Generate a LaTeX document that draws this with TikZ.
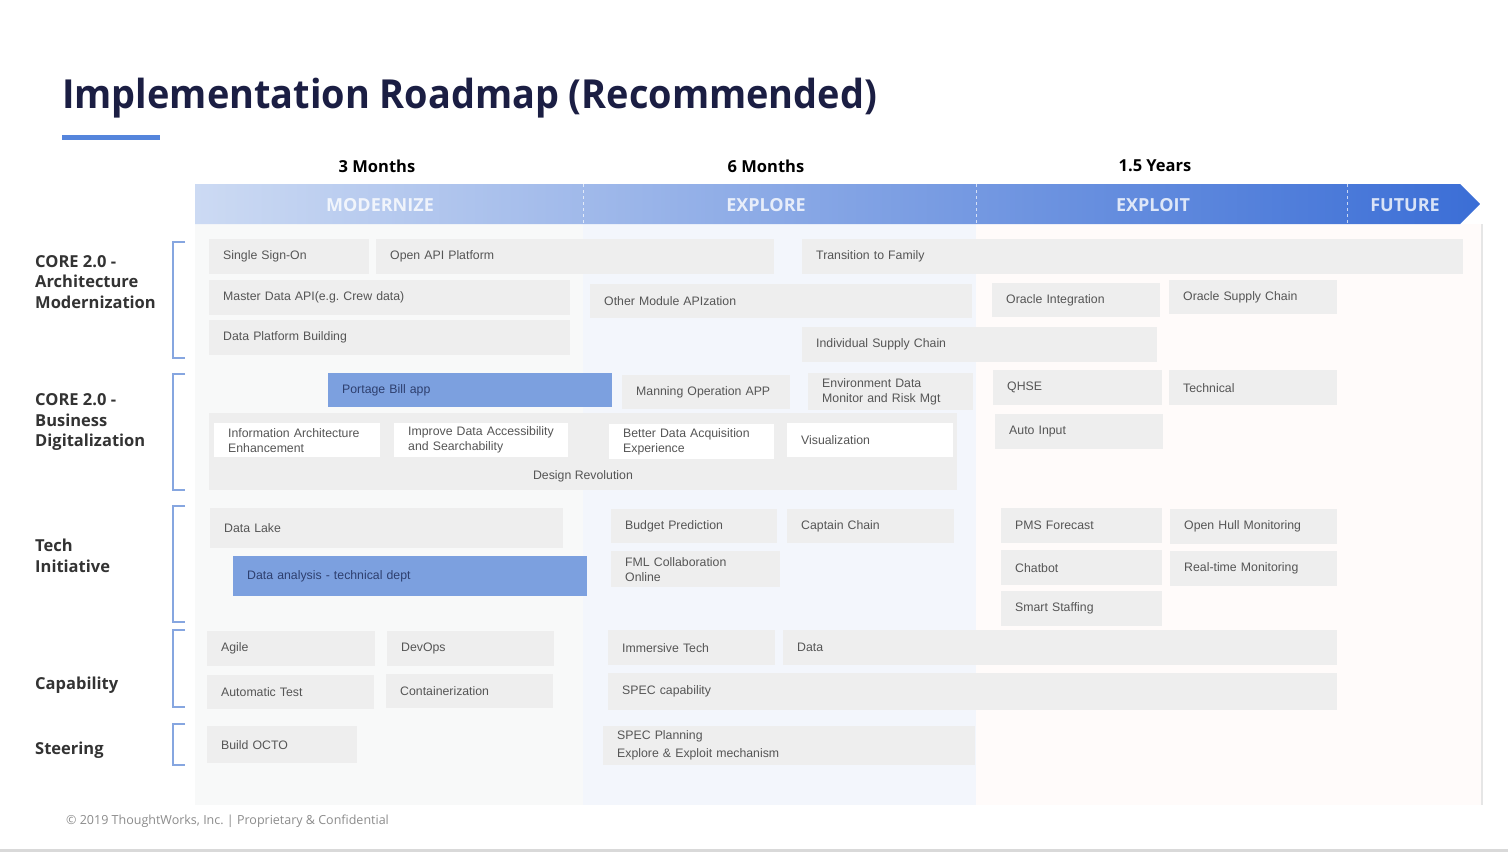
\documentclass[tikz,border=0pt]{standalone}
\usepackage{graphicx}
\usepackage{fontspec}
\setmainfont{Liberation Sans}
\newfontfamily\opensans{Open Sans}
\frenchspacing

\definecolor{titlenavy}{HTML}{1B1E43}
\definecolor{accentblue}{HTML}{5585DC}
\definecolor{bandlight}{HTML}{CCDAF3}
\definecolor{banddark}{HTML}{3B6ED6}
\definecolor{colmod}{HTML}{F8F9F9}
\definecolor{colexp}{HTML}{F3F6FC}
\definecolor{colexl}{HTML}{FFFBFA}
\definecolor{colborder}{HTML}{E6E6E6}
\definecolor{taskgray}{HTML}{EEEEEE}
\definecolor{taskblue}{HTML}{7CA0DF}
\definecolor{tasktext}{HTML}{555555}
\definecolor{bluetext}{HTML}{2E3F6E}
\definecolor{labeltext}{HTML}{333333}
\definecolor{bracketblue}{HTML}{86A6E0}
\definecolor{footergray}{HTML}{8C8C8C}
\definecolor{rulegray}{HTML}{D9D9D9}

\tikzset{
  taskbox/.style={fill=taskgray, draw=none, inner xsep=14pt, inner ysep=1pt,
    align=left, text=tasktext, font=\fontsize{12.3}{15}\selectfont},
  bluetask/.style={fill=taskblue, text=bluetext},
  whitetask/.style={fill=white},
  rowlabel/.style={anchor=west, align=left, text=labeltext, inner sep=0pt,
    font=\opensans\bfseries\fontsize{16.5}{20.5}\selectfont},
  colhead/.style={inner sep=0pt, text=black,
    font=\opensans\bfseries\fontsize{16.5}{20}\selectfont},
  phase/.style={inner sep=0pt, text=white, text opacity=0.8,
    font=\opensans\bfseries\fontsize{18}{20}\selectfont},
  bracket/.style={draw=bracketblue, line width=1.6pt},
  divider/.style={draw=white, dashed, line width=0.8pt, opacity=0.7},
}

% \roadtask[style]{name}{x1}{y1}{x2}{y2}{text}
\newcommand\roadtask[7][]{%
  \pgfmathsetmacro\rtw{#5-#3}%
  \pgfmathsetmacro\rth{#6-#4}%
  \pgfmathsetmacro\rtt{#5-#3-28}%
  \node[taskbox,#1,anchor=north west,minimum width=\rtw pt,minimum height=\rth pt,
        text width=\rtt pt] (#2) at (#3,#4) {#7};}

\begin{document}
\begin{tikzpicture}[x=1pt,y=-1pt]
\useasboundingbox (0,0) rectangle (1508,852);
\fill[white] (0,0) rectangle (1508,852);

% title and accent bar
\node[anchor=base west, inner sep=0pt, text=titlenavy,
      font=\opensans\bfseries\fontsize{40}{44}\selectfont] (title) at (62,108)
      {\scalebox{0.947}[1]{Implementation Roadmap (Recommended)}};
\fill[accentblue] (62,135) rectangle (160,140);

% column backgrounds
\fill[colmod] (195,224) rectangle (583,805);
\fill[colexp] (583,224) rectangle (976,805);
\fill[colexl] (976,224) rectangle (1482,805);
\draw[colborder, line width=1.5pt] (1482,224) -- (1482,805);

% timeline headers
\node[colhead] (h3m) at (377,166) {3 Months};
\node[colhead] (h6m) at (766,166) {6 Months};
\node[colhead] (h15y) at (1155,166) {1.5 Years};

% phase arrow
\shade[left color=bandlight, right color=banddark]
  (195,184) -- (1460,184) -- (1480,204) -- (1460,224) -- (195,224) -- cycle;
\draw[divider] (583,184) -- (583,224);
\draw[divider] (976,184) -- (976,224);
\draw[divider] (1347,184) -- (1347,224);
\node[phase] (modernize) at (380,205) {MODERNIZE};
\node[phase] (explore) at (766,205) {EXPLORE};
\node[phase] (exploit) at (1153,205) {EXPLOIT};
\node[phase] (future) at (1405,205) {FUTURE};

% row labels and brackets
\node[rowlabel] (lblarch) at (35,282) {CORE 2.0 -\\Architecture\\Modernization};
\node[rowlabel] (lblbiz) at (35,422) {CORE 2.0 -\\Business\\Digitalization};
\node[rowlabel] (lbltech) at (35,556) {Tech\\Initiative};
\node[rowlabel] (lblcap) at (35,685) {Capability};
\node[rowlabel] (lblsteer) at (35,750) {Steering};
\draw[bracket] (185,242) -| (173,358) -- (185,358);
\draw[bracket] (185,374) -| (173,490) -- (185,490);
\draw[bracket] (185,506) -| (173,622) -- (185,622);
\draw[bracket] (185,630) -| (173,707) -- (185,707);
\draw[bracket] (185,724) -| (173,765) -- (185,765);

% CORE 2.0 - Architecture Modernization
\roadtask{sso}{209}{239}{369}{274}{Single Sign-On}
\roadtask{openapi}{376}{239}{774}{274}{Open API Platform}
\roadtask{family}{802}{239}{1463}{274}{Transition to Family}
\roadtask{masterdata}{209}{280}{570}{315}{Master Data API(e.g. Crew data)}
\roadtask{othermod}{590}{284}{972}{318}{Other Module APIzation}
\roadtask{oracleint}{992}{283}{1160}{317}{Oracle Integration}
\roadtask{oraclesc}{1169}{280}{1337}{314}{Oracle Supply Chain}
\roadtask{dataplat}{209}{320}{570}{355}{Data Platform Building}
\roadtask{indsc}{802}{327}{1157}{362}{Individual Supply Chain}

% CORE 2.0 - Business Digitalization
\roadtask[bluetask]{portage}{328}{373}{612}{407}{Portage Bill app}
\roadtask{manning}{622}{375}{790}{409}{Manning Operation APP}
\roadtask{envdata}{808}{373}{973}{410}{Environment Data\\Monitor and Risk Mgt}
\roadtask{qhse}{993}{370}{1162}{405}{QHSE}
\roadtask{technical}{1169}{370}{1337}{405}{Technical}
\node[fill=taskgray, anchor=north west, minimum width=748pt, minimum height=77pt,
      inner sep=0pt] (designblock) at (209,413) {};
\node[text=tasktext, font=\fontsize{12.3}{15}\selectfont, inner sep=0pt]
      (designrev) at (583,476) {Design Revolution};
\roadtask[whitetask]{infoarch}{214}{423}{380}{457}{Information Architecture\\Enhancement}
\roadtask[whitetask]{dataaccess}{394}{423}{568}{457}{\mbox{Improve Data Accessibility}\\and Searchability}
\roadtask[whitetask]{acquisition}{609}{424}{774}{459}{Better Data Acquisition\\Experience}
\roadtask[whitetask]{visual}{787}{423}{953}{457}{Visualization}
\roadtask{autoinput}{995}{414}{1163}{449}{Auto Input}

% Tech Initiative
\roadtask{datalake}{210}{508}{563}{548}{Data Lake}
\roadtask[bluetask]{analysis}{233}{556}{587}{596}{Data analysis - technical dept}
\roadtask{budget}{611}{509}{777}{543}{Budget Prediction}
\roadtask{captain}{787}{509}{954}{543}{Captain Chain}
\roadtask{fml}{611}{551}{780}{587}{FML Collaboration\\Online}
\roadtask{pms}{1001}{508}{1162}{543}{PMS Forecast}
\roadtask{openhull}{1170}{509}{1337}{544}{Open Hull Monitoring}
\roadtask{chatbot}{1001}{550}{1162}{585}{Chatbot}
\roadtask{realtime}{1170}{551}{1337}{586}{Real-time Monitoring}
\roadtask{staffing}{1001}{591}{1162}{626}{Smart Staffing}

% Capability
\roadtask{agile}{207}{631}{375}{666}{Agile}
\roadtask{devops}{387}{631}{554}{666}{DevOps}
\roadtask{autotest}{207}{675}{374}{709}{Automatic Test}
\roadtask{container}{386}{674}{553}{708}{Containerization}
\roadtask{immersive}{608}{630}{775}{665}{Immersive Tech}
\roadtask{data}{783}{630}{1337}{665}{Data}
\roadtask{speccap}{608}{673}{1337}{710}{SPEC capability}

% Steering
\roadtask{octo}{207}{726}{357}{763}{Build OCTO}
\roadtask[font=\fontsize{12.3}{18}\selectfont]{specplan}{603}{726}{975}{765}{SPEC Planning\\Explore \& Exploit mechanism}

% footer
\node[anchor=west, inner sep=0pt, text=footergray,
      font=\opensans\fontsize{12.5}{14}\selectfont] (footer) at (66,821)
      {© 2019 ThoughtWorks, Inc. | Proprietary \& Confidential};
\fill[rulegray] (0,849) rectangle (1508,852);
\end{tikzpicture}
\end{document}
